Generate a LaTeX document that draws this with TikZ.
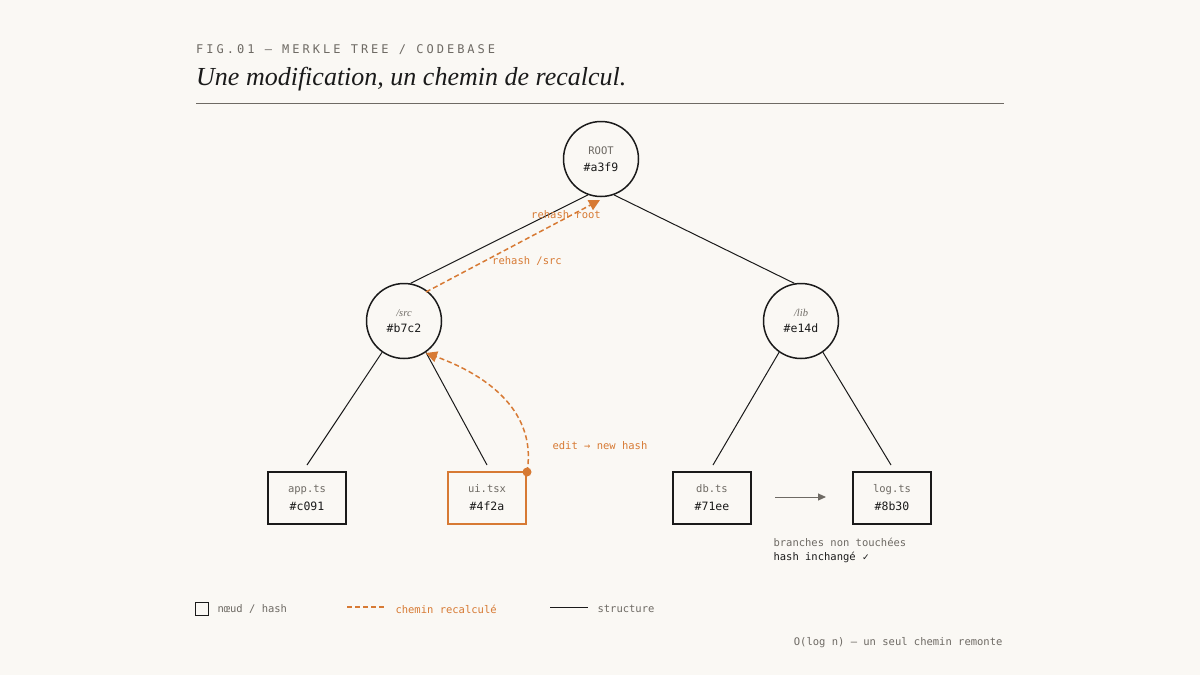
\documentclass[tikz,border=0pt]{standalone}
\usepackage{fontspec}
\setmainfont{Liberation Serif}
\setmonofont{DejaVu Sans Mono}
\newfontfamily\symfont{DejaVu Sans}
\usetikzlibrary{arrows.meta,positioning}
\definecolor{paper}{HTML}{FAF8F4}
\definecolor{ink}{HTML}{1A1A1A}
\definecolor{rust}{HTML}{D77A34}
\definecolor{mute}{HTML}{6E6A64}
\tikzset{
    hnode/.style={draw=ink, circle, line width=1.5pt, minimum size=75pt, inner sep=0pt, align=center},
    fbox/.style={draw=ink, line width=1.3pt, minimum width=78pt, minimum height=52pt, inner sep=0pt, align=center},
    edge/.style={draw=ink, line width=1pt},
    path/.style={draw=rust, line width=1.5pt, dash pattern=on 5pt off 3pt},
    lbl/.style={font=\ttfamily\fontsize{10.5}{12}\selectfont, text=rust},
    note/.style={font=\ttfamily\fontsize{10.5}{12}\selectfont, anchor=west}
}
\newcommand{\nm}[1]{{\fontsize{10.5}{12}\selectfont\color{mute}#1}}
\newcommand{\hs}[1]{{\fontsize{11.5}{13}\selectfont\color{ink}#1}}
\begin{document}
\begin{tikzpicture}[x=1pt,y=-1pt,font=\ttfamily]
    \fill[paper] (0,0) rectangle (1200,675);
    \useasboundingbox (0,0) rectangle (1200,675);
    % header
    \node[anchor=west, inner sep=0pt, text=mute] (fig) at (196,50)
        {\addfontfeature{LetterSpace=25}\fontsize{12}{14}\selectfont FIG.01 — MERKLE TREE / CODEBASE};
    \node[anchor=west, inner sep=0pt, text=ink] (title) at (196,79)
        {\rmfamily\itshape\fontsize{26}{30}\selectfont Une modification, un chemin de recalcul.};
    \draw[mute, line width=0.9pt] (196,103) -- (1004,103);
    % tree
    \node[hnode] (root) at (601,159) {\nm{ROOT}\\[5pt]\hs{\#a3f9}};
    \node[hnode] (src) at (404,321) {\nm{\rmfamily\itshape /src}\\[4pt]\hs{\#b7c2}};
    \node[hnode] (lib) at (801,321) {\nm{\rmfamily\itshape /lib}\\[4pt]\hs{\#e14d}};
    \node[fbox] (app) at (307,498) {\nm{app.ts}\\[6pt]\hs{\#c091}};
    \node[fbox, draw=rust, line width=1.8pt] (ui) at (487,498) {\nm{ui.tsx}\\[6pt]\hs{\#4f2a}};
    \node[fbox] (db) at (712,498) {\nm{db.ts}\\[6pt]\hs{\#71ee}};
    \node[fbox] (log) at (892,498) {\nm{log.ts}\\[6pt]\hs{\#8b30}};
    \coordinate (appT) at (307,465);
    \coordinate (uiT) at (487,465);
    \coordinate (dbT) at (713,465);
    \coordinate (logT) at (891,465);
    \draw[edge] (root.250) -- (src.80);
    \draw[edge] (root.290) -- (lib.100);
    \draw[edge] (src.235) -- (appT);
    \draw[edge] (src.305) -- (uiT);
    \draw[edge] (lib.235) -- (dbT);
    \draw[edge] (lib.305) -- (logT);
    % recomputed path
    \coordinate (edit) at (527,472);
    \coordinate (srcIn) at (426,353);
    \coordinate (srcOut) at (426,292);
    \coordinate (rootIn) at (600,200);
    \fill[rust] (edit) circle (4.5pt);
    \draw[path, -{Triangle[length=11pt,width=11pt]}] (edit) .. controls (536,420) and (500,380) .. (srcIn);
    \draw[path, -{Triangle[length=11pt,width=11pt]}] (srcOut) -- (rootIn);
    \node[lbl] (lroot) at (566,215) {rehash root};
    \node[lbl] (lsrc) at (527,261) {rehash /src};
    \node[lbl, anchor=west] (ledit) at (549,446) {edit → new hash};
    % unchanged branches
    \draw[mute, line width=1pt, -{Triangle[length=8pt,width=7pt]}] (775,497) -- (826,497);
    \node[note, text=mute] (n1) at (770,542) {branches non touchées};
    \node[note, text=ink] (n2) at (770,557) {hash inchangé {\symfont\fontsize{9}{10}\selectfont ✓}};
    % legend
    \draw[ink, line width=1pt] (195,602) rectangle (208,615);
    \node[note, text=mute] (k1) at (214,609) {nœud / hash};
    \draw[path] (347,607) -- (385,607);
    \node[note, text=rust] (k2) at (392,609) {chemin recalculé};
    \draw[ink, line width=1pt] (550,607) -- (588,607);
    \node[note, text=mute] (k3) at (594,609) {structure};
    \node[note, anchor=east, text=mute] (foot) at (1006,643) {O(log n) — un seul chemin remonte};
\end{tikzpicture}
\end{document}
